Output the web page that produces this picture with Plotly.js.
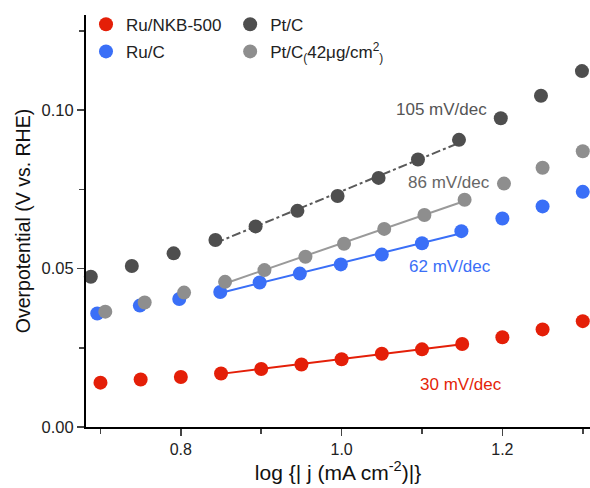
<!DOCTYPE html>
<html><head><meta charset="utf-8">
<script src="https://cdn.plot.ly/plotly-3.0.1.min.js"></script>
<style>html,body{margin:0;padding:0;background:#fff}#c{width:590px;height:488px}</style>
</head><body><div id="c"></div>
<script>
// Data
const xRuNKB = [0.700,0.750,0.800,0.850,0.900,0.950,1.000,1.050,1.100,1.150,1.200,1.250,1.300];
const yRuNKB = [0.0140,0.0150,0.0158,0.0169,0.0183,0.0197,0.0214,0.0231,0.0245,0.0262,0.0283,0.0308,0.0334];
const xRuC   = [0.696,0.749,0.798,0.849,0.898,0.948,0.999,1.050,1.100,1.149,1.200,1.250,1.300];
const yRuC   = [0.0358,0.0383,0.0404,0.0426,0.0456,0.0484,0.0513,0.0544,0.0580,0.0618,0.0658,0.0696,0.0742];
const xPt    = [0.688,0.739,0.791,0.843,0.893,0.945,0.995,1.046,1.095,1.146,1.198,1.248,1.299];
const yPt    = [0.0474,0.0508,0.0548,0.0590,0.0633,0.0682,0.0729,0.0786,0.0844,0.0906,0.0974,0.1045,0.1123];
const xPt42  = [0.706,0.755,0.804,0.855,0.904,0.955,1.003,1.053,1.103,1.153,1.202,1.250,1.300];
const yPt42  = [0.0364,0.0393,0.0424,0.0458,0.0495,0.0537,0.0578,0.0625,0.0669,0.0717,0.0768,0.0818,0.0870];
const seriesNames = ['Ru/NKB-500','Ru/C','Pt/C','Pt/C<sub>(</sub>42μg/cm<sup>2</sup><sub>)</sub>'];
const tafelLabels = ['30 mV/dec','62 mV/dec','105 mV/dec','86 mV/dec'];
const xTicks = [0.8,1.0,1.2], xTickText = ['0.8','1.0','1.2'];
const yTicks = [0,0.05,0.10], yTickText = ['0.00','0.05','0.10'];
const fitStart = 3, fitEnd = 9;

const colors = ['#e41f08','#3a6ff7','#4e4e4e','#8e8e8e'];
const lineColors = ['#e41f08','#3a6ff7','#5a5a5a','#9a9a9a'];
const xs = [xRuNKB,xRuC,xPt,xPt42], ys = [yRuNKB,yRuC,yPt,yPt42];

function fit(x,y){
  const xx=x.slice(fitStart,fitEnd+1), yy=y.slice(fitStart,fitEnd+1);
  const n=xx.length, mx=xx.reduce((a,b)=>a+b)/n, my=yy.reduce((a,b)=>a+b)/n;
  let sxy=0,sxx=0; for(let i=0;i<n;i++){sxy+=(xx[i]-mx)*(yy[i]-my);sxx+=(xx[i]-mx)**2;}
  const m=sxy/sxx, b=my-m*mx;
  return {x:[xx[0],xx[n-1]], y:[m*xx[0]+b, m*xx[n-1]+b]};
}

const traces=[];
for(let k=0;k<4;k++){
  const f=fit(xs[k],ys[k]);
  traces.push({x:f.x,y:f.y,mode:'lines',showlegend:false,hoverinfo:'skip',
    line:{color:lineColors[k],width:2,dash:k===2?'dashdot':'solid'}});
}
const legendOf=['legend','legend','legend2','legend2'];
for(let k=0;k<4;k++){
  traces.push({x:xs[k],y:ys[k],mode:'markers',name:seriesNames[k],legend:legendOf[k],legendgroup:'g'+k,
    cliponaxis:false,marker:{color:colors[k],size:14}});
}

const annPos = [[1.148,0.0135],[1.135,0.0505],[1.124,0.1003],[1.133,0.0773]];
const annotations = tafelLabels.map((t,k)=>({x:annPos[k][0],y:annPos[k][1],xref:'x',yref:'y',text:t,showarrow:false,
  font:{family:'Liberation Sans, Arial, sans-serif',size:17,color:k===2?'#555':(k===3?'#666':colors[k])}}));

const font={family:'Liberation Sans, Arial, sans-serif',size:16,color:'#222'};
const layout={
  width:590,height:488,margin:{l:86,r:0,t:15,b:61},
  paper_bgcolor:'#fff',plot_bgcolor:'#fff',font:font,
  xaxis:{range:[0.682,1.309],tickvals:xTicks,ticktext:xTickText,ticks:'outside',ticklen:7,tickwidth:1.5,tickfont:{size:16},
    minor:{tickvals:[0.7,0.9,1.1,1.3],ticks:'outside',ticklen:5,tickwidth:1.5},
    showline:true,linecolor:'#000',linewidth:2,showgrid:false,zeroline:false,
    title:{text:'log {| j (mA cm<sup>-2</sup>)|}',font:{size:21,color:'#111'},standoff:3}},
  yaxis:{range:[0,0.13],tickvals:yTicks,ticktext:yTickText,ticks:'outside',ticklen:7,tickwidth:1.5,tickfont:{size:16.5},
    minor:{tickvals:[0.025,0.075,0.125],ticks:'outside',ticklen:5,tickwidth:1.5},
    showline:true,linecolor:'#000',linewidth:2,showgrid:false,zeroline:false,
    title:{text:'Overpotential (V vs. RHE)',font:{size:19.5,color:'#111'},standoff:6}},
  legend:{x:0.0,y:1.02,xanchor:'left',yanchor:'top',bgcolor:'rgba(0,0,0,0)',tracegroupgap:2,font:{size:17,color:'#222'}},
  legend2:{x:0.286,y:1.02,xanchor:'left',yanchor:'top',bgcolor:'rgba(0,0,0,0)',tracegroupgap:2,font:{size:17,color:'#222'}},
  annotations:annotations,showlegend:true
};
Plotly.newPlot('c',traces,layout,{staticPlot:true});
</script></body></html>
